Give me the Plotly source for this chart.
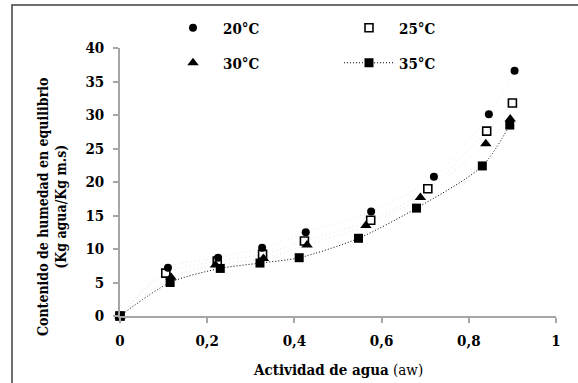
import plotly.graph_objects as go

# Data
aw_20 = [0, 0.110, 0.225, 0.326, 0.426, 0.576, 0.720, 0.846, 0.905]
m_20 = [0, 7.2, 8.7, 10.2, 12.5, 15.6, 20.8, 30.1, 36.6]
aw_25 = [0, 0.105, 0.223, 0.327, 0.423, 0.575, 0.706, 0.841, 0.900]
m_25 = [0, 6.4, 8.2, 9.2, 11.2, 14.3, 19.0, 27.6, 31.8]
aw_30 = [0, 0.117, 0.219, 0.329, 0.429, 0.564, 0.689, 0.839, 0.895]
m_30 = [0, 5.8, 7.6, 8.6, 10.6, 13.5, 17.7, 25.7, 29.4]
aw_35 = [0, 0.115, 0.230, 0.321, 0.411, 0.547, 0.680, 0.831, 0.894]
m_35 = [0, 5.0, 7.1, 7.9, 8.7, 11.6, 16.1, 22.4, 28.5]

labels = ["20°C", "25°C", "30°C", "35°C"]
x_ticks = [0, 0.2, 0.4, 0.6, 0.8, 1]
x_ticktext = ["0", "0,2", "0,4", "0,6", "0,8", "1"]
y_ticks = [0, 5, 10, 15, 20, 25, 30, 35, 40]

FONT = "DejaVu Serif Condensed, DejaVu Serif"
W, H = 578, 383
ML, MR, MT, MB = 120, 22, 48, 67
PW = W - ML - MR
PH = H - MT - MB


def px_x(p):
    return (p - ML) / PW


def px_y(p):
    return (H - MB - p) / PH


fig = go.Figure()

for xs, ys in [(aw_20, m_20), (aw_25, m_25), (aw_30, m_30)]:
    fig.add_trace(go.Scatter(x=xs, y=ys, mode="lines",
                             line=dict(color="#e6e6e6", width=1, dash="1px,3px", shape="spline", smoothing=0.8),
                             showlegend=False, hoverinfo="skip", cliponaxis=False))

fig.add_trace(go.Scatter(x=aw_20, y=m_20, mode="markers", name=labels[0],
                         marker=dict(symbol="circle", size=8, color="black"),
                         legend="legend", cliponaxis=False))
fig.add_trace(go.Scatter(x=aw_25, y=m_25, mode="markers", name=labels[1],
                         marker=dict(symbol="square-open", size=8, color="black", line=dict(width=1.6)),
                         legend="legend", cliponaxis=False))
fig.add_trace(go.Scatter(x=aw_30, y=m_30, mode="markers", name=labels[2],
                         marker=dict(symbol="triangle-up", size=10, color="black"),
                         legend="legend2", cliponaxis=False))
fig.add_trace(go.Scatter(x=aw_35, y=m_35, mode="lines+markers", name=labels[3],
                         line=dict(color="black", width=1, dash="1px,2px", shape="spline", smoothing=0.8),
                         marker=dict(symbol="square", size=9, color="black"),
                         legend="legend2", cliponaxis=False))

legend_font = dict(family=FONT, size=15, color="black", weight="bold")
common_leg = dict(orientation="h", font=legend_font, bgcolor="rgba(0,0,0,0)", borderwidth=0,
                  entrywidth=111, entrywidthmode="pixels", xanchor="left", yanchor="middle",
                  itemwidth=50, tracegroupgap=0)

fig.update_layout(
    width=W, height=H,
    margin=dict(l=ML, r=MR, t=MT, b=MB),
    paper_bgcolor="white", plot_bgcolor="white",
    showlegend=True,
    legend=dict(x=px_x(163), y=px_y(28), **common_leg),
    legend2=dict(x=px_x(163), y=px_y(63), **common_leg),
    xaxis=dict(range=[0, 1], tickvals=x_ticks, ticktext=x_ticktext,
               showgrid=False, zeroline=False, showline=True, linecolor="#a6a6a6", linewidth=1.5,
               ticks="outside", ticklen=5, tickcolor="#a6a6a6", tickwidth=1.5,
               ticklabelstandoff=5,
               tickfont=dict(family=FONT, size=15, color="black", weight="bold")),
    yaxis=dict(range=[0, 40], tickvals=y_ticks,
               showgrid=False, zeroline=False, showline=True, linecolor="#a6a6a6", linewidth=1.5,
               ticks="outside", ticklen=5, tickcolor="#a6a6a6", tickwidth=1.5,
               ticklabelstandoff=6,
               tickfont=dict(family=FONT, size=15, color="black", weight="bold")),
    annotations=[
        dict(text="<b>Actividad de agua</b> (aw)", xref="paper", yref="paper",
             x=0.5, y=px_y(370), xanchor="center", yanchor="middle", showarrow=False,
             font=dict(family=FONT, size=15, color="black")),
        dict(text="<b>Contenido de humedad en equilibrio<br>(Kg agua/Kg m.s)</b>", xref="paper", yref="paper",
             x=px_x(52), y=px_y(207), xanchor="center", yanchor="middle", showarrow=False, textangle=-90,
             font=dict(family=FONT, size=14, color="black")),
    ],
    shapes=[
        dict(type="rect", xref="paper", yref="paper", x0=px_x(12), x1=px_x(620), y0=px_y(420), y1=px_y(5),
             line=dict(color="#404040", width=1.5), fillcolor="rgba(0,0,0,0)", layer="below"),
    ],
)

fig.write_html("out.html")
